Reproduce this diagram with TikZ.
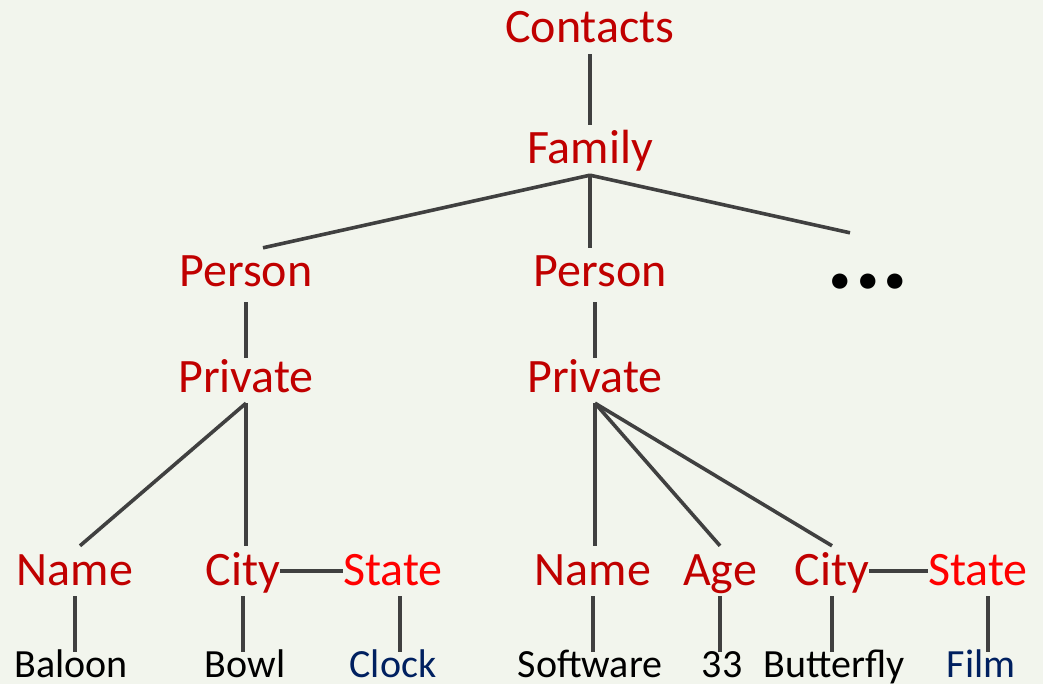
\documentclass[tikz,border=0pt]{standalone}
\usepackage{fontspec}
\setmainfont{Carlito}
\definecolor{darkred}{HTML}{C00000}
\definecolor{brightred}{HTML}{FF0000}
\definecolor{navy}{HTML}{002060}
\definecolor{linegray}{HTML}{404040}
\definecolor{slidebg}{HTML}{F2F5ED}
\begin{document}
\begin{tikzpicture}[
x=1pt,
y=-1pt,
lvl/.style={
font=\fontsize{48}{56}\selectfont,
text=darkred,
inner sep=0pt,
text height=39pt,
text depth=11pt,
anchor=base,
},
leaf/.style={
font=\fontsize{40}{48}\selectfont,
inner sep=0pt,
text height=25pt,
text depth=9pt,
anchor=base,
},
link/.style={
draw=linegray,
line width=3.6pt,
},
]
\fill[slidebg] (0,0) rectangle (1043,684);
\useasboundingbox (0,0) rectangle (1043,684);

\node[lvl] at (590,43) (contacts) {Contacts};
\node[lvl] at (590,164) (family) {Family};
\node[lvl] at (246,287) (person1) {Person};
\node[lvl] at (600,287) (person2) {Person};
\node[font=\fontsize{103}{106}\selectfont\bfseries, inner sep=0pt, minimum height=98pt] at (868,282) (more) {...};
\node[lvl] at (246,392) (private1) {Private};
\node[lvl] at (595,392) (private2) {Private};

\node[lvl] at (75,585) (name1) {Name};
\node[lvl] at (243,585) (city1) {City};
\node[lvl, text=brightred] at (393,585) (state1) {State};
\node[lvl] at (593,585) (name2) {Name};
\node[lvl] at (720,585) (age2) {Age};
\node[lvl] at (832,585) (city2) {City};
\node[lvl, text=brightred] at (978,585) (state2) {State};

\node[leaf] at (71,677) (baloon) {Baloon};
\node[leaf] at (245,677) (bowl) {Bowl};
\node[leaf, text=navy] at (393,677) (clock) {Clock};
\node[leaf] at (590,677) (software) {Software};
\node[leaf] at (722,677) (age33) {33};
\node[leaf] at (834,677) (butterfly) {Butterfly};
\node[leaf, text=navy] at (981,677) (film) {Film};

% upper levels
\path[link] (contacts) -- (family);
\path[link] (family.south) -- ([xshift=17pt]person1.north);
\path[link] (family.south) -- (family.south |- person2.north);
\path[link] (family.south) -- ([xshift=-18pt]more.north);
\path[link, shorten <=4pt, shorten >=-5pt] (person1) -- (private1);
\path[link, shorten <=-5pt, shorten >=4pt] (private2.north) -- (private2.north |- person2.south);

% fields
\path[link] (private1.south) -- ([xshift=5pt]name1.north);
\path[link] (private1.south) -- (private1.south |- city1.north);
\path[link] (city1) -- (state1);
\path[link] (private2.south) -- (private2.south |- name2.north);
\path[link] (private2.south) -- (age2.north);
\path[link] (private2.south) -- (city2.north);
\path[link] (city2) -- (state2);

% values
\path[link] (name1.south) -- (name1.south |- baloon.north);
\path[link] (city1.south) -- (city1.south |- bowl.north);
\path[link] ([xshift=7pt]state1.south) -- ([xshift=7pt]state1.south |- clock.north);
\path[link] (name2.south) -- (name2.south |- software.north);
\path[link] (age2.south) -- (age2.south |- age33.north);
\path[link] (city2.south) -- (city2.south |- butterfly.north);
\path[link] ([xshift=10pt]state2.south) -- ([xshift=10pt]state2.south |- film.north);

\end{tikzpicture}
\end{document}
